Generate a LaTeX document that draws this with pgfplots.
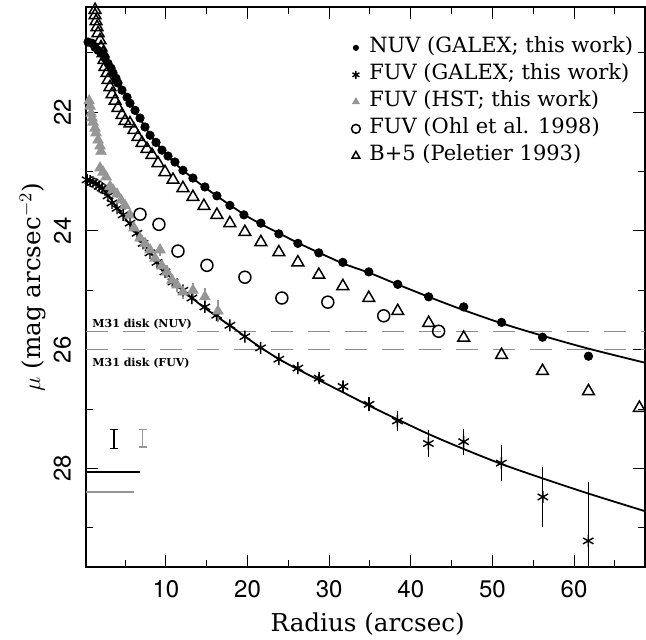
\documentclass[border=0pt]{standalone}
\usepackage{fontspec}
\setmainfont{DejaVu Serif}
\newfontfamily\heros{TeX Gyre Heros}
\usepackage{pgfplots}
\pgfplotsset{compat=1.18}
\definecolor{hstgray}{RGB}{150,150,150}
\definecolor{dashgray}{RGB}{140,140,140}

\begin{document}
\begin{tikzpicture}
\begin{axis}[
    scale only axis,
    width=279.5pt, height=280pt,
    xmin=0.2, xmax=68.7,
    ymin=20.23, ymax=29.66,
    y dir=reverse,
    xtick={10,20,...,60},
    minor xtick={5,15,...,65},
    ytick={22,24,26,28},
    minor ytick={21,23,...,29},
    tick align=inside,
    major tick length=6pt,
    minor tick length=3.5pt,
    every tick/.style={black, line width=0.5pt},
    axis line style={line width=0.8pt},
    unbounded coords=jump,
    /pgf/number format/assume math mode=true,
    tick label style={font=\heros\fontsize{12}{14}\selectfont},
    xticklabel style={yshift=-3pt},
    yticklabel style={xshift=-4pt, rotate=90, anchor=south},
    xlabel={Radius (arcsec)},
    ylabel={$\mu$ (mag arcsec$^{-2}$)},
    label style={font=\fontsize{12.3}{14}\selectfont},
    xlabel style={at={(axis description cs:0.504,-0.1157)}, anchor=base},
    ylabel style={at={(axis description cs:-0.082,0.5)}, anchor=base},
    legend cell align=left,
    legend style={draw=none, fill=none, at={(axis description cs:0.475,0.945)},
        anchor=north west, inner sep=0pt, outer sep=0pt, row sep=3.5pt,
        font=\fontsize{10.5}{12}\selectfont,
        nodes={inner sep=0pt, text height=7.5pt, text depth=2.5pt},
        /tikz/every odd column/.append style={column sep=4.5pt}},
    legend image code/.code={\draw[#1] plot coordinates {(0pt,0pt)};},
]

% M31 disk levels
\addplot[forget plot, dashgray, line width=0.6pt, dash pattern=on 11pt off 7.5pt]
    coordinates {(0.2,25.70) (68.7,25.70)};
\addplot[forget plot, dashgray, line width=0.6pt, dash pattern=on 11pt off 7.5pt]
    coordinates {(0.2,26.00) (68.7,26.00)};

% fits
\addplot[forget plot, black, line width=0.9pt, smooth] coordinates {
    (0.2,20.80) (1,20.85) (2,20.98) (3,21.19) (4,21.44) (5,21.70) (6,21.93)
    (7,22.15) (8,22.37) (9,22.55) (10,22.71) (11,22.85) (12,22.97) (14,23.19)
    (16,23.39) (18,23.58) (20,23.76) (22,23.91) (24,24.05) (26,24.19) (28,24.32)
    (30,24.445) (32,24.565) (35,24.71) (38,24.88) (42,25.10) (46,25.31) (51,25.55)
    (56,25.76) (61.7,25.98) (68.7,26.22)
};
\addplot[forget plot, black, line width=0.9pt, smooth] coordinates {
    (0.2,23.12) (1,23.15) (2,23.25) (3,23.42) (4,23.61) (5,23.79) (6,23.97)
    (7,24.16) (8,24.35) (9,24.53) (10,24.70) (11,24.85) (12,24.99) (14,25.22)
    (16,25.42) (18,25.61) (20,25.81) (22,26.00) (24,26.17) (26,26.32) (28,26.46)
    (30,26.60) (32,26.74) (35,26.95) (38,27.15) (42,27.41) (46,27.645) (51,27.92)
    (56,28.16) (61.7,28.42) (68.7,28.72)
};

% background levels, bottom left
\addplot[forget plot, black, line width=1.2pt] coordinates {(0.2,28.06) (6.8,28.06)};
\addplot[forget plot, hstgray, line width=0.9pt] coordinates {(0.2,28.39) (6.1,28.39)};

% typical error bars (drawn as I-beams)
\addplot[forget plot, black, line width=0.6pt] coordinates {
    (3.15,27.35) (4.13,27.35) (nan,nan)
    (3.64,27.35) (3.64,27.66) (nan,nan)
    (3.15,27.66) (4.13,27.66)
};
\addplot[forget plot, hstgray, line width=0.6pt] coordinates {
    (6.66,27.35) (7.64,27.35) (nan,nan)
    (7.15,27.35) (7.15,27.64) (nan,nan)
    (6.66,27.64) (7.64,27.64)
};

% NUV GALEX
\addplot[only marks, mark=*, mark size=2.1pt, black,
    legend image post style={mark size=1.3pt}] coordinates {
    (0.45,20.82) (0.94,20.84) (1.31,20.91) (1.68,20.96) (2.17,21.01) (2.53,21.09)
    (2.90,21.18) (3.27,21.26) (3.51,21.34) (3.88,21.43) (4.12,21.51) (4.61,21.63)
    (5.23,21.75) (5.59,21.85) (6.21,21.97) (6.82,22.10) (7.43,22.25) (8.05,22.39)
    (8.78,22.51) (9.51,22.64) (10.25,22.74) (11.10,22.84) (12.08,22.98) (13.30,23.11)
    (14.77,23.26) (16.24,23.41) (17.83,23.57) (19.55,23.73) (21.63,23.87) (23.83,24.05)
    (26.16,24.21) (28.73,24.37) (31.67,24.53) (34.85,24.69) (38.40,24.90) (42.19,25.11)
    (46.48,25.28) (51.12,25.54) (56.14,25.79) (61.77,26.11)
};
\addlegendentry{NUV (GALEX; this work)}

% FUV GALEX
\addplot[only marks, mark=asterisk, mark size=3pt, black, mark options={line width=0.7pt},
    legend image post style={mark size=2pt},
    error bars/.cd, y dir=both, y explicit, error mark=none,
    error bar style={line width=0.6pt, black}] coordinates {
    (0.33,23.14) +- (0,0) (0.70,23.16) +- (0,0) (1.06,23.18) +- (0,0)
    (1.43,23.21) +- (0,0) (1.80,23.25) +- (0,0) (2.17,23.28) +- (0,0)
    (2.53,23.31) +- (0,0) (2.90,23.41) +- (0,0) (3.39,23.53) +- (0,0)
    (4.00,23.62) +- (0,0) (4.74,23.73) +- (0,0) (5.59,23.87) +- (0,0)
    (6.45,24.04) +- (0,0) (7.19,24.21) +- (0,0) (8.04,24.37) +- (0,0)
    (8.90,24.53) +- (0,0) (9.88,24.69) +- (0,0) (10.86,24.86) +- (0,0)
    (12.08,25.00) +- (0,0) (13.18,25.13) +- (0,0) (14.77,25.28) +- (0,0)
    (16.21,25.42) +- (0,0) (17.83,25.59) +- (0,0) (19.67,25.78) +- (0,0.02)
    (21.59,25.97) +- (0,0.03) (23.83,26.16) +- (0,0.04) (26.16,26.31) +- (0,0.05)
    (28.76,26.48) +- (0,0.07) (31.70,26.62) +- (0,0.09) (34.88,26.92) +- (0,0.12)
    (38.36,27.20) +- (0,0.17) (42.15,27.58) +- (0,0.22) (46.48,27.55) +- (0,0.22)
    (51.09,27.91) +- (0,0.30) (56.18,28.48) +- (0,0.50) (61.74,29.22) +- (0,1.00)
};
\addlegendentry{FUV (GALEX; this work)}

% FUV HST
\addplot[only marks, mark=triangle*, mark size=3pt, hstgray,
    mark options={draw=hstgray, fill=hstgray},
    legend image post style={mark size=2pt},
    error bars/.cd, y dir=both, y explicit, error mark=none,
    error bar style={line width=0.6pt, hstgray}] coordinates {
    (0.58,21.81) +- (0,0.04) (0.70,21.90) +- (0,0.04) (0.82,22.02) +- (0,0.04)
    (0.94,22.10) +- (0,0.04) (1.06,22.17) +- (0,0.04) (1.31,22.27) +- (0,0.04)
    (1.43,22.35) +- (0,0.04) (1.68,22.47) +- (0,0.04) (1.92,22.57) +- (0,0.05)
    (2.04,22.66) +- (0,0.05) (1.92,22.94) +- (0,0.05) (2.29,23.01) +- (0,0.05)
    (2.66,23.09) +- (0,0.05) (3.14,23.25) +- (0,0.05) (3.51,23.31) +- (0,0.06)
    (4.00,23.38) +- (0,0.06) (4.49,23.48) +- (0,0.06) (4.98,23.57) +- (0,0.07)
    (5.59,23.73) +- (0,0.07) (6.08,23.95) +- (0,0.08) (6.82,24.12) +- (0,0.08)
    (7.43,24.21) +- (0,0.09) (8.05,24.32) +- (0,0.09) (8.66,24.46) +- (0,0.10)
    (9.27,24.32) +- (0,0.10) (9.51,24.59) +- (0,0.10) (10.12,24.69) +- (0,0.11)
    (10.74,24.83) +- (0,0.11) (11.35,24.91) +- (0,0.12) (12.08,25.03) +- (0,0.12)
    (13.30,25.00) +- (0,0.13) (14.77,25.11) +- (0,0.15) (16.37,25.35) +- (0,0.18)
};
\addlegendentry{FUV (HST; this work)}

% FUV Ohl et al. 1998
\addplot[only marks, mark=o, mark size=3pt, black, mark options={line width=0.75pt},
    legend image post style={mark size=2.2pt}] coordinates {
    (6.82,23.72) (9.14,23.89) (11.47,24.34) (15.02,24.58) (19.67,24.78)
    (24.20,25.13) (29.83,25.20) (36.68,25.43) (43.41,25.69)
};
\addlegendentry{FUV (Ohl et al. 1998)}

% B+5 Peletier 1993
\addplot[only marks, mark=triangle, mark size=3.4pt, black, mark options={line width=0.75pt},
    legend image post style={mark size=2.2pt}] coordinates {
    (1.31,20.28) (1.31,20.37) (1.43,20.47) (1.55,20.57) (1.68,20.67) (1.92,20.79)
    (2.04,20.91) (2.29,21.01) (2.41,21.12) (2.53,21.24) (2.78,21.34) (2.90,21.46)
    (3.14,21.58) (3.39,21.70) (3.76,21.81) (4.12,21.93) (4.61,22.05) (4.98,22.15)
    (5.59,22.19) (6.08,22.30) (6.57,22.42) (7.06,22.52) (7.67,22.62) (8.29,22.72)
    (9.02,22.86) (9.88,23.01) (10.86,23.14) (12.08,23.28) (13.30,23.43) (14.65,23.58)
    (16.24,23.73) (17.83,23.87) (19.67,24.02) (21.63,24.19) (23.83,24.36) (26.16,24.53)
    (28.73,24.74) (31.67,24.93) (34.85,25.13) (38.40,25.35) (42.19,25.55) (46.48,25.80)
    (51.12,26.09) (56.14,26.36) (61.77,26.70) (68.01,26.98)
};
\addlegendentry{B+5 (Peletier 1993)}

\node[font=\bfseries\fontsize{5.5}{6}\selectfont, anchor=base west, inner sep=0pt]
    at (axis cs:0.94,25.62) {M31 disk (NUV)};
\node[font=\bfseries\fontsize{5.5}{6}\selectfont, anchor=base west, inner sep=0pt]
    at (axis cs:0.94,26.28) {M31 disk (FUV)};
\end{axis}
\pgfresetboundingbox
\path[use as bounding box] (-43pt,-36pt) rectangle (280pt,283.5pt);
\end{tikzpicture}
\end{document}
